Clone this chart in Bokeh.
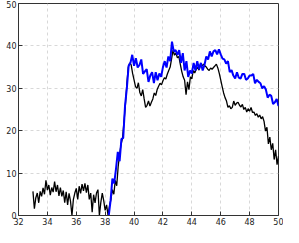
import numpy as np
from bokeh.plotting import figure
from bokeh.models import Range1d, FixedTicker
from bokeh.embed import file_html
from bokeh.resources import INLINE

# black series: x from 33.0 step 0.1
black_start, black_step = 33.0, 0.1
black_y = [5.7, 1.6, 4.2, 5.3, 3.0, 5.7, 4.5, 6.5, 5.0, 8.3,
           6.0, 7.2, 4.8, 6.6, 5.5, 8.0, 5.6, 7.2, 4.6, 6.6,
           4.5, 5.9, 3.0, 5.6, 2.5, 5.2, 3.4, 0.0, 3.8, 5.3,
           6.4, 3.8, 6.9, 5.2, 7.4, 5.8, 7.6, 5.4, 7.2, 3.8,
           5.3, 0.8, 4.9, 3.0, 5.3, 6.1, 0.0, 3.1, 5.3, 3.5,
           1.2, 2.5, 0.0, 2.3, 3.8, 6.1, 5.0, 8.3, 7.0, 11.5,
           14.5, 16.8, 18.2, 22.0, 26.0, 31.0, 35.0, 36.0, 35.5, 33.5,
           32.0, 30.4, 30.0, 31.3, 29.0, 28.2, 29.7, 27.5, 25.5, 26.0,
           27.0, 25.8, 26.7, 27.5, 28.9, 28.3, 29.7, 30.5, 31.2, 30.8,
           31.8, 32.5, 32.2, 33.3, 34.2, 35.0, 37.0, 39.0, 37.8, 38.3,
           37.2, 37.5, 35.7, 34.0, 32.7, 31.9, 28.5, 31.5, 29.7, 32.7,
           32.2, 34.2, 33.6, 34.5, 34.9, 34.3, 35.7, 35.2, 35.7, 35.3,
           35.0, 34.5, 34.2, 34.8, 34.5, 34.9, 35.3, 35.7, 34.8, 33.5,
           32.0, 30.4, 28.9, 27.8, 27.0, 25.5, 25.9, 25.2, 25.5, 27.0,
           26.0, 26.5, 26.7, 26.0, 25.6, 26.2, 25.0, 25.5, 24.4, 25.2,
           24.6, 25.5, 24.3, 24.4, 23.6, 24.0, 23.2, 23.7, 22.8, 23.3,
           22.2, 19.9, 20.8, 16.9, 18.5, 15.5, 17.0, 13.2, 15.5, 12.0,
           14.0]

# blue series: x from 38.25 step 0.125
blue_start, blue_step = 38.25, 0.125
blue_y = [0.0, 3.5, 8.7, 7.6, 11.0, 15.0, 12.8, 18.0, 18.3, 25.9,
          30.0, 35.3, 36.0, 37.9, 35.3, 37.1, 34.9, 35.5, 36.8, 33.4,
          34.0, 34.5, 31.5, 33.0, 33.8, 31.2, 33.8, 31.9, 33.5, 32.7,
          35.0, 36.4, 34.9, 37.5, 36.4, 41.0, 38.7, 39.0, 37.9, 39.0,
          36.0, 38.3, 34.2, 36.4, 32.7, 34.2, 33.5, 36.0, 34.2, 36.4,
          34.5, 36.0, 34.2, 35.5, 37.5, 36.8, 38.7, 37.5, 38.7, 39.0,
          38.0, 39.2, 38.0, 37.0, 36.8, 35.8, 36.4, 33.8, 34.3, 33.0,
          32.3, 33.8, 32.5, 32.3, 33.4, 33.4, 32.0, 32.3, 33.0, 33.0,
          33.4, 31.2, 32.0, 31.5, 31.2, 30.0, 30.5, 29.7, 27.8, 28.5,
          28.2, 26.3, 26.7, 27.5, 25.8]

x_ticks = [32, 34, 36, 38, 40, 42, 44, 46, 48, 50]
y_ticks = [0, 10, 20, 30, 40, 50]

black_x = black_start + black_step * np.arange(len(black_y))
blue_x = blue_start + blue_step * np.arange(len(blue_y))

p = figure(width=283, height=227, output_backend="svg", toolbar_location=None,
           x_range=Range1d(32, 50), y_range=Range1d(0, 50),
           min_border_left=18, min_border_right=5, min_border_top=3,
           min_border_bottom=4)

p.line(black_x, black_y, line_color="black", line_width=1.3)
p.line(blue_x, blue_y, line_color="#0000ff", line_width=2)

p.outline_line_color = "#333333"
p.outline_line_width = 1

for ax in (p.xaxis, p.yaxis):
    ax.axis_line_color = "#333333"
    ax.major_tick_line_color = "#333333"
    ax.major_tick_in = 4
    ax.major_tick_out = 0
    ax.minor_tick_line_color = None
    ax.major_label_text_font = "DejaVu Sans"
    ax.major_label_text_font_size = "8px"
    ax.major_label_text_color = "#222222"
    ax.major_label_standoff = 2
p.xaxis.ticker = FixedTicker(ticks=x_ticks)
p.yaxis.ticker = FixedTicker(ticks=y_ticks)

p.xgrid.ticker = FixedTicker(ticks=x_ticks)
p.ygrid.ticker = FixedTicker(ticks=y_ticks)
for g in (p.xgrid, p.ygrid):
    g.grid_line_color = "#d8d8d8"
    g.grid_line_dash = "3 3"
    g.grid_line_width = 1

p.background_fill_color = "white"
p.border_fill_color = "white"

open("out.html", "w").write(file_html(p, INLINE))
